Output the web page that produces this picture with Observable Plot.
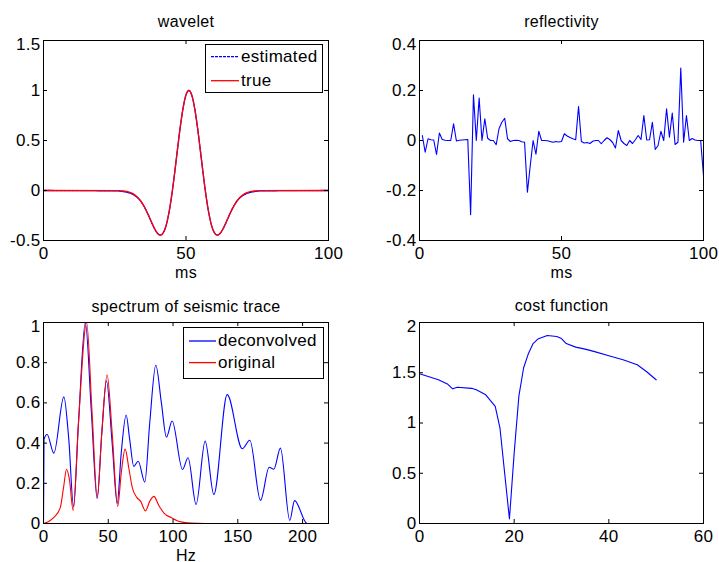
<!DOCTYPE html>
<html>
<head>
<meta charset="utf-8">
<script src="https://cdn.jsdelivr.net/npm/d3@7"></script>
<script src="https://cdn.jsdelivr.net/npm/@observablehq/plot@0.6"></script>
<style>
  body { margin: 0; background: #fff; }
  #fig { position: relative; width: 719px; height: 562px; overflow: hidden; background: #fff;
         font-family: "Liberation Sans", Arial, Helvetica, sans-serif; }
  #fig svg { position: absolute; overflow: visible; }
</style>
</head>
<body>
<div id="fig"></div>
<script>
// ---------- wavelet (ms vs amplitude) ----------
const waveMs = [0, 26, 27, 28, 29, 30, 31, 32, 33, 34, 35, 36, 37, 38, 39, 40, 41, 42, 43, 44, 45, 46, 47, 48, 49, 50,
  51, 52, 53, 54, 55, 56, 57, 58, 59, 60, 61, 62, 63, 64, 65, 66, 67, 68, 69, 70, 71, 72, 73, 74, 75, 76, 100];
const waveTrue = [0, -0.001, -0.003, -0.005, -0.009, -0.016, -0.027, -0.044, -0.068, -0.100, -0.144, -0.197, -0.258,
  -0.323, -0.383, -0.428, -0.446, -0.424, -0.352, -0.225, -0.047, 0.172, 0.409, 0.638, 0.829, 0.956,
  1.000, 0.956, 0.829, 0.638, 0.409, 0.172, -0.047, -0.225, -0.352, -0.424, -0.446, -0.428, -0.383, -0.323,
  -0.258, -0.197, -0.144, -0.100, -0.068, -0.044, -0.027, -0.016, -0.009, -0.005, -0.003, -0.001, 0];
const waveEst = [0, -0.004, -0.007, -0.011, -0.016, -0.023, -0.033, -0.050, -0.072, -0.102, -0.145, -0.198, -0.259,
  -0.324, -0.384, -0.429, -0.446, -0.424, -0.352, -0.225, -0.047, 0.172, 0.409, 0.638, 0.829, 0.956,
  1.000, 0.956, 0.829, 0.638, 0.409, 0.172, -0.047, -0.225, -0.352, -0.424, -0.446, -0.429, -0.384, -0.324,
  -0.259, -0.198, -0.145, -0.102, -0.072, -0.050, -0.033, -0.023, -0.016, -0.011, -0.007, -0.004, 0];

// ---------- reflectivity (samples 1..100 ms) ----------
const reflMs = [1,2,3,4,5,6,7,8,9,10,11,12,13,14,15,16,17,18,19,20,21,22,23,24,25,26,27,28,29,30,
  31,32,33,34,35,36,37,38,39,40,41,42,43,44,45,46,47,48,49,50,51,52,53,54,55,56,57,58,59,60,
  61,62,63,64,65,66,67,68,69,70,71,72,73,74,75,76,77,78,79,80,81,82,83,84,85,86,87,88,89,90,
  91,92,93,94,95,96,97,98,99,100];
const reflVal = [0.02, -0.047, 0.007, 0.003, 0.002, -0.056, 0.03, 0.004, 0.001, 0.0,
  0.0, 0.067, -0.002, 0.001, 0.002, 0.003, 0.004, -0.297, 0.183, 0.0,
  0.17, 0.0, 0.087, 0.009, 0.0, 0.0, -0.017, 0.047, 0.073, 0.089,
  0.007, -0.004, 0.0, 0.001, 0.0, -0.005, -0.007, -0.207, -0.1, 0.0,
  -0.055, 0.037, 0.0, 0.0, -0.001, -0.004, -0.007, -0.004, -0.006, -0.004,
  0.027, 0.018, 0.012, 0.007, 0.003, 0.136, -0.004, -0.01, -0.008, -0.012,
  -0.003, 0.0, 0.0, -0.013, 0.0, 0.011, 0.004, -0.008, -0.03, 0.04,
  0.0, -0.012, -0.02, 0.0, -0.012, 0.003, 0.02, 0.004, 0.1, 0.002,
  0.003, 0.073, -0.036, -0.02, 0.037, 0.0, 0.127, 0.013, 0.11, -0.016,
  -0.007, 0.29, -0.007, 0.1, 0.0, 0.008, 0.002, 0.0, 0.0, -0.14];

// ---------- spectrum of seismic trace ----------
const deconHz  = [0, 0.4, 2.8, 8, 15.7, 19.5, 23.2, 27, 32.3, 37, 41.4, 45, 48.6, 53, 56.9, 60, 63.8, 66.5, 69.7, 73.1,
  78.2, 82, 86.7, 91, 94.9, 99.3, 107.3, 111.6, 117.8, 124.8, 131.5, 141.8, 153.4, 159.3, 167.5, 174.2, 177.8,
  182.9, 190.1, 193.8, 203.5, 220];
const deconAmp = [0, 0.42, 0.443, 0.35, 0.63, 0.42, 0.085, 0.5, 1.0, 0.55, 0.124, 0.45, 0.71, 0.4, 0.1, 0.35, 0.54, 0.42,
  0.284, 0.31, 0.206, 0.5, 0.787, 0.6, 0.43, 0.51, 0.269, 0.327, 0.095, 0.41, 0.144, 0.641, 0.372, 0.414, 0.115,
  0.28, 0.27, 0.375, 0.015, 0.114, 0, 0];
const origHz  = [0, 4, 8, 13, 15.5, 17.8, 20, 22.9, 27, 33.3, 37.5, 41.5, 45, 49.1, 53, 57.3, 60, 63, 66, 68.5, 72, 75,
  78.7, 82, 85.2, 89, 93, 99, 106, 114, 125, 220];
const origAmp = [0, 0.01, 0.03, 0.08, 0.18, 0.27, 0.22, 0.065, 0.5, 1.0, 0.55, 0.13, 0.45, 0.74, 0.45, 0.085, 0.25, 0.37,
  0.27, 0.18, 0.13, 0.11, 0.063, 0.11, 0.135, 0.09, 0.052, 0.028, 0.008, 0.002, 0, 0];

// ---------- cost function ----------
const costX = [0, 4, 6, 7, 8, 11, 12, 14, 16, 17, 19, 20, 21, 22, 23, 24, 25, 27, 29, 30, 31, 33, 35, 37, 40, 43, 46, 48, 50];
const costY = [1.49, 1.43, 1.385, 1.34, 1.355, 1.345, 1.33, 1.28, 1.165, 0.95, 0.045, 0.7, 1.27, 1.55, 1.69, 1.79, 1.835,
  1.87, 1.86, 1.84, 1.79, 1.755, 1.735, 1.71, 1.67, 1.63, 1.58, 1.51, 1.43];

// ---------- ticks ----------
const waveXTicks = [0, 50, 100], waveXLabels = ["0", "50", "100"];
const waveYTicks = [-0.5, 0, 0.5, 1, 1.5], waveYLabels = ["-0.5", "0", "0.5", "1", "1.5"];
const reflXTicks = [0, 50, 100], reflXLabels = ["0", "50", "100"];
const reflYTicks = [-0.4, -0.2, 0, 0.2, 0.4], reflYLabels = ["-0.4", "-0.2", "0", "0.2", "0.4"];
const specXTicks = [0, 50, 100, 150, 200], specXLabels = ["0", "50", "100", "150", "200"];
const specYTicks = [0, 0.2, 0.4, 0.6, 0.8, 1], specYLabels = ["0", "0.2", "0.4", "0.6", "0.8", "1"];
const costXTicks = [0, 20, 40, 60], costXLabels = ["0", "20", "40", "60"];
const costYTicks = [0, 0.5, 1, 1.5, 2], costYLabels = ["0", "0.5", "1", "1.5", "2"];

const BLUE = "#0000ff", RED = "#ff0000";
const FONT = '"Liberation Sans", Arial, Helvetica, sans-serif';
const FS = 17, LS = "0.3px";
const fig = document.getElementById("fig");

function panel(o) {
  const fw = o.width - o.ml - o.mr, fh = o.height - o.mt - o.mb;
  const yTop = o.yTicks[o.yTicks.length - 1];
  const xf = d => o.xLabels[o.xTicks.indexOf(d)];
  const yf = d => o.yLabels[o.yTicks.indexOf(d)];
  const marks = [
    ...o.marks,
    Plot.frame({stroke: "black", strokeWidth: 1}),
    Plot.tickX(o.xTicks, {x: d => d, insetTop: fh - 4, stroke: "black"}),
    Plot.tickX(o.xTicks, {x: d => d, insetBottom: fh - 4, stroke: "black"}),
    Plot.tickY(o.yTicks, {y: d => d, insetRight: fw - 4, stroke: "black"}),
    Plot.tickY(o.yTicks, {y: d => d, insetLeft: fw - 4, stroke: "black"}),
    Plot.axisX(o.xTicks, {tickSize: 0, tickPadding: 6, tickFormat: xf, label: null, fill: "#000"}),
    Plot.axisY(o.yTicks.slice(0, -1), {tickSize: 0, tickPadding: 3, tickFormat: yf, label: null, fill: "#000"}),
    Plot.axisY([yTop], {tickSize: 0, tickPadding: 3, dy: 4, tickFormat: yf, label: null, fill: "#000"}),
    Plot.text([o.title], {text: d => d, frameAnchor: "top", dy: o.titleDy, lineAnchor: "bottom", fill: "#000", fontSize: 16})
  ];
  if (o.xlabel) marks.push(Plot.text([o.xlabel], {text: d => d, frameAnchor: "bottom", dy: o.xlabelDy, lineAnchor: "bottom", fill: "#000", fontSize: 16}));
  const svg = Plot.plot({
    width: o.width, height: o.height,
    marginTop: o.mt, marginBottom: o.mb, marginLeft: o.ml, marginRight: o.mr,
    x: {domain: o.xDomain}, y: {domain: o.yDomain},
    style: {fontSize: FS + "px", fontFamily: FONT, letterSpacing: LS, background: "transparent", overflow: "visible"},
    marks
  });
  svg.style.left = o.left + "px";
  svg.style.top = o.top + "px";
  fig.appendChild(svg);
}

function legend(left, top, w, h, items) {
  const svg = d3.create("svg").attr("width", w).attr("height", h)
    .style("left", left + "px").style("top", top + "px");
  svg.append("rect").attr("x", 0.5).attr("y", 0.5).attr("width", w - 1).attr("height", h - 1)
    .attr("fill", "white").attr("stroke", "black");
  for (const it of items) {
    svg.append("line").attr("x1", it.x1).attr("x2", it.x2).attr("y1", it.y).attr("y2", it.y)
      .attr("stroke", it.color).attr("stroke-width", 1.3).attr("stroke-dasharray", it.dash || null);
    svg.append("text").attr("x", it.tx).attr("y", it.y).attr("dy", "0.32em")
      .attr("font-family", FONT).attr("font-size", FS).attr("letter-spacing", LS).attr("fill", "#000")
      .text(it.label);
  }
  fig.appendChild(svg.node());
}

// wavelet
panel({
  left: 0, top: 0, width: 360, height: 280, mt: 40, mb: 40, ml: 43, mr: 32,
  xDomain: [0, 100], yDomain: [-0.5, 1.5],
  xTicks: waveXTicks, xLabels: waveXLabels, yTicks: waveYTicks, yLabels: waveYLabels,
  title: "wavelet", titleDy: -14, xlabel: "ms", xlabelDy: 37,
  marks: [
    Plot.line(waveMs, {x: d => d, y: (d, i) => waveEst[i], stroke: BLUE, strokeWidth: 1.3, strokeDasharray: "3,1", curve: "monotone-x"}),
    Plot.line(waveMs, {x: d => d, y: (d, i) => waveTrue[i], stroke: RED, strokeWidth: 1.3, curve: "monotone-x"})
  ]
});
legend(205, 44, 118, 49, [
  {label: "estimated", color: BLUE, dash: "3,1", x1: 6, x2: 34, y: 12.7, tx: 36},
  {label: "true", color: RED, x1: 6, x2: 34, y: 36.7, tx: 36}
]);

// reflectivity
panel({
  left: 360, top: 0, width: 359, height: 280, mt: 40, mb: 40, ml: 59, mr: 16,
  xDomain: [0, 100], yDomain: [-0.4, 0.4],
  xTicks: reflXTicks, xLabels: reflXLabels, yTicks: reflYTicks, yLabels: reflYLabels,
  title: "reflectivity", titleDy: -14, xlabel: "ms", xlabelDy: 37,
  marks: [
    Plot.line(reflMs, {x: d => d, y: (d, i) => reflVal[i], stroke: BLUE, strokeWidth: 1.1})
  ]
});

// spectrum
panel({
  left: 0, top: 280, width: 360, height: 282, mt: 42, mb: 39, ml: 43, mr: 32,
  xDomain: [0, 220], yDomain: [0, 1],
  xTicks: specXTicks, xLabels: specXLabels, yTicks: specYTicks, yLabels: specYLabels,
  title: "spectrum of seismic trace", titleDy: -11, xlabel: "Hz", xlabelDy: 37,
  marks: [
    Plot.line(deconHz, {x: d => d, y: (d, i) => deconAmp[i], stroke: BLUE, strokeWidth: 1.1, curve: "monotone-x"}),
    Plot.line(origHz, {x: d => d, y: (d, i) => origAmp[i], stroke: RED, strokeWidth: 1.1, curve: "monotone-x"})
  ]
});
legend(183, 327, 141, 52, [
  {label: "deconvolved", color: BLUE, x1: 6, x2: 33, y: 14, tx: 35},
  {label: "original", color: RED, x1: 6, x2: 33, y: 35.6, tx: 35}
]);

// cost function
panel({
  left: 360, top: 280, width: 359, height: 282, mt: 42, mb: 39, ml: 59, mr: 16,
  xDomain: [0, 60], yDomain: [0, 2],
  xTicks: costXTicks, xLabels: costXLabels, yTicks: costYTicks, yLabels: costYLabels,
  title: "cost function", titleDy: -12, xlabel: null,
  marks: [
    Plot.line(costX, {x: d => d, y: (d, i) => costY[i], stroke: BLUE, strokeWidth: 1.1})
  ]
});
</script>
</body>
</html>
